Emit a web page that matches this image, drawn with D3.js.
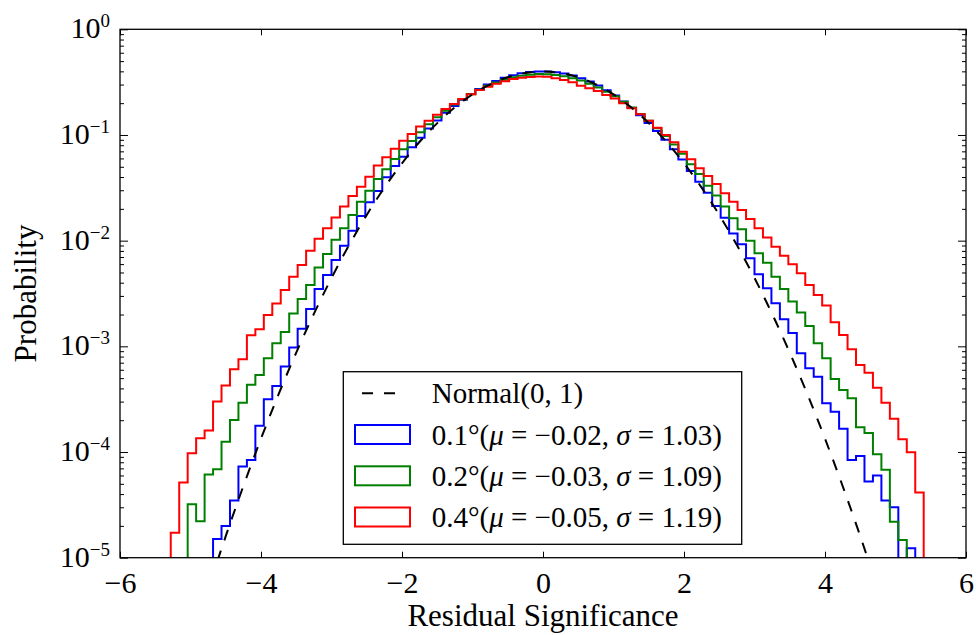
<!DOCTYPE html>
<html>
<head>
<meta charset="utf-8">
<script src="https://cdn.jsdelivr.net/npm/d3@7/dist/d3.min.js"></script>
<style>
  html, body { margin: 0; padding: 0; background: #fff; }
  svg { display: block; font-family: "Liberation Serif", "DejaVu Serif", serif; }
  svg text { font-family: "Liberation Serif", "DejaVu Serif", serif; }
</style>
</head>
<body>
<div id="chart"></div>
<script>
// Histograms on a 0.12 wide bin grid; each series lists its bins from a first left edge
const binWidth = 0.12;

const blueFrom = -4.68;
const blueValues = [
  1.50e-5, 2.00e-5, 3.47e-5, 7.28e-5, 8.41e-5, 1.77e-4, 3.16e-4, 4.22e-4, 6.43e-4, 9.73e-4,
  1.47e-3, 2.26e-3, 3.49e-3, 4.73e-3, 6.56e-3, 8.97e-3, 0.0124, 0.0171, 0.0231, 0.0295,
  0.0398, 0.0509, 0.0624, 0.0764, 0.0944, 0.115, 0.137, 0.162, 0.188, 0.216,
  0.244, 0.273, 0.300, 0.325, 0.348, 0.367, 0.383, 0.394, 0.399, 0.398,
  0.393, 0.381, 0.365, 0.344, 0.321, 0.294, 0.265, 0.236, 0.207, 0.180,
  0.154, 0.130, 0.109, 0.0899, 0.0733, 0.0587, 0.0456, 0.0361, 0.0284, 0.0213,
  0.0165, 0.0117, 9.25e-3, 6.81e-3, 4.81e-3, 3.55e-3, 2.56e-3, 1.80e-3, 1.34e-3, 8.61e-4,
  6.21e-4, 5.16e-4, 2.90e-4, 2.41e-4, 1.66e-4, 8.41e-5, 9.18e-5, 5.25e-5, 5.98e-5, 3.47e-5,
  3.01e-5, 0, 1.23e-5
];

const greenFrom = -5.04;
const greenValues = [
  3.21e-5, 2.21e-5,
  6.12e-5, 6.87e-5, 1.25e-4, 2.01e-4, 2.93e-4, 4.32e-4, 5.36e-4, 7.71e-4, 1.07e-3, 1.37e-3,
  2.04e-3, 2.81e-3, 3.81e-3, 5.56e-3, 7.48e-3, 0.0102, 0.0131, 0.0175, 0.0234, 0.0297,
  0.0384, 0.0473, 0.0593, 0.0733, 0.0877, 0.106, 0.126, 0.147, 0.170, 0.194,
  0.218, 0.243, 0.268, 0.292, 0.314, 0.334, 0.351, 0.364, 0.372, 0.377,
  0.376, 0.370, 0.360, 0.345, 0.327, 0.306, 0.282, 0.257, 0.232, 0.206,
  0.182, 0.158, 0.136, 0.116, 0.0977, 0.0813, 0.0664, 0.0528, 0.0428, 0.0330,
  0.0267, 0.0210, 0.0163, 0.0128, 0.0100, 7.60e-3, 6.19e-3, 4.56e-3, 3.49e-3, 2.65e-3,
  2.09e-3, 1.56e-3, 1.07e-3, 7.71e-4, 4.92e-4, 3.86e-4, 3.23e-4, 1.72e-4, 1.51e-4, 9.53e-5,
  6.78e-5, 2.19e-5, 1.47e-5
];

const redFrom = -5.28;
const redValues = [
  1.72e-5, 5.14e-5, 9.75e-5, 1.35e-4,
  1.60e-4, 3.00e-4, 4.25e-4, 6.07e-4, 7.55e-4, 1.27e-3, 1.45e-3, 1.98e-3, 2.54e-3, 3.42e-3,
  4.56e-3, 5.89e-3, 8.04e-3, 0.0104, 0.0131, 0.0166, 0.0210, 0.0265, 0.0324, 0.0403,
  0.0513, 0.0615, 0.0741, 0.0881, 0.102, 0.120, 0.136, 0.155, 0.176, 0.196,
  0.219, 0.243, 0.267, 0.286, 0.306, 0.323, 0.338, 0.348, 0.354, 0.357,
  0.355, 0.345, 0.331, 0.315, 0.293, 0.277, 0.261, 0.239, 0.222, 0.200,
  0.179, 0.157, 0.136, 0.117, 0.100, 0.0853, 0.0695, 0.0589, 0.0484, 0.0409,
  0.0344, 0.0281, 0.0234, 0.0195, 0.0160, 0.0131, 0.0107, 8.77e-3, 7.21e-3, 5.98e-3,
  4.92e-3, 3.81e-3, 3.06e-3, 2.44e-3, 1.69e-3, 1.28e-3, 9.40e-4, 6.67e-4, 5.64e-4, 4.06e-4,
  2.93e-4, 2.06e-4, 1.32e-4, 9.95e-5, 4.13e-5
];

// Normal(0,1) reference curve
const normX = [-5, -4.75, -4.5, -4.25, -4, -3.75, -3.5, -3.25, -3, -2.75, -2.5, -2.25, -2, -1.75,
  -1.5, -1.25, -1, -0.75, -0.5, -0.25, 0, 0.25, 0.5, 0.75, 1, 1.25, 1.5, 1.75, 2, 2.25, 2.5,
  2.75, 3, 3.25, 3.5, 3.75, 4, 4.25, 4.5, 4.75, 5];
const normY = [1.487e-6, 5.03e-6, 1.598e-5, 4.77e-5, 1.338e-4, 3.526e-4, 8.727e-4, 2.029e-3,
  4.432e-3, 9.094e-3, 0.01753, 0.03174, 0.05399, 0.08628, 0.12952, 0.18265, 0.24197, 0.30114,
  0.35207, 0.38667, 0.39894, 0.38667, 0.35207, 0.30114, 0.24197, 0.18265, 0.12952, 0.08628,
  0.05399, 0.03174, 0.01753, 9.094e-3, 4.432e-3, 2.029e-3, 8.727e-4, 3.526e-4, 1.338e-4,
  4.77e-5, 1.598e-5, 5.03e-6, 1.487e-6];

// Legend entries
const seriesAngles = ['0.1°', '0.2°', '0.4°'];
const seriesMu = ['−0.02', '−0.03', '−0.05'];
const seriesSigma = ['1.03', '1.09', '1.19'];
const normalLabel = 'Normal(0, 1)';

// Axis ticks
const xTicks = [-6, -4, -2, 0, 2, 4, 6];
const yExponents = [0, -1, -2, -3, -4, -5];

const seriesColors = ['#0000ff', '#008000', '#ff0000'];
const serif = 'Liberation Serif';

const width = 976;
const height = 635;
const margin = { top: 29.3, right: 10, bottom: 77.3, left: 120 };

const svg = d3.select('#chart').append('svg')
  .attr('width', width)
  .attr('height', height);

const x = d3.scaleLinear()
  .domain([-6, 6])
  .range([margin.left, width - margin.right]);

const y = d3.scaleLog()
  .domain([1e-5, 1])
  .range([height - margin.bottom, margin.top]);

const plotW = width - margin.left - margin.right;
const plotH = height - margin.top - margin.bottom;

svg.append('clipPath').attr('id', 'plot-clip')
  .append('rect')
  .attr('x', margin.left).attr('y', margin.top)
  .attr('width', plotW).attr('height', plotH);

// Step outline of a histogram, empty bins drop below the axis
const floor = 1e-7;
function stepPoints(from, values) {
  const pts = [[from, floor]];
  values.forEach((v, i) => pts.push([from + i * binWidth, v]));
  pts.push([from + values.length * binWidth, floor]);
  return pts;
}

const stepLine = d3.line()
  .x(d => x(d[0]))
  .y(d => y(Math.max(d[1], floor)))
  .curve(d3.curveStepAfter);

const plot = svg.append('g').attr('clip-path', 'url(#plot-clip)');

const series = [
  { from: blueFrom, values: blueValues },
  { from: greenFrom, values: greenValues },
  { from: redFrom, values: redValues }
];

series.forEach((s, i) => {
  plot.append('path')
    .attr('d', stepLine(stepPoints(s.from, s.values)))
    .attr('fill', 'none')
    .attr('stroke', seriesColors[i])
    .attr('stroke-width', 2)
    .attr('stroke-linejoin', 'miter');
});

// Normal curve
const normLine = d3.line()
  .x((d, i) => x(normX[i]))
  .y(d => y(d))
  .curve(d3.curveMonotoneX);

plot.append('path')
  .attr('d', normLine(normY))
  .attr('fill', 'none')
  .attr('stroke', '#000')
  .attr('stroke-width', 2)
  .attr('stroke-dasharray', '11,11');

// Axes (inward ticks on all four sides)
const yMajor = yExponents.map(e => Math.pow(10, e));
const yMinor = y.ticks().filter(v => !yMajor.some(m => Math.abs(m - v) / m < 1e-6));
const bottomY = height - margin.bottom;
const rightX = width - margin.right;

const xAxis = svg.append('g')
  .attr('transform', `translate(0,${bottomY})`)
  .call(d3.axisBottom(x).tickValues(xTicks).tickSizeInner(-6).tickSizeOuter(0).tickPadding(14));
xAxis.attr('font-family', null);
xAxis.selectAll('text')
  .style('font-family', serif)
  .style('font-size', '30px')
  .attr('fill', '#000');

svg.append('g')
  .attr('transform', `translate(0,${margin.top})`)
  .call(d3.axisTop(x).tickValues(xTicks).tickSize(-6).tickFormat(''));

svg.append('g')
  .attr('transform', `translate(${margin.left},0)`)
  .call(d3.axisLeft(y).tickValues(yMajor).tickSize(-8).tickFormat(''));
svg.append('g')
  .attr('transform', `translate(${margin.left},0)`)
  .call(d3.axisLeft(y).tickValues(yMinor).tickSize(-4).tickFormat(''));
svg.append('g')
  .attr('transform', `translate(${rightX},0)`)
  .call(d3.axisRight(y).tickValues(yMajor).tickSize(-8).tickFormat(''));
svg.append('g')
  .attr('transform', `translate(${rightX},0)`)
  .call(d3.axisRight(y).tickValues(yMinor).tickSize(-4).tickFormat(''));

svg.selectAll('.domain').remove();
svg.selectAll('.tick line').attr('stroke', '#000').attr('stroke-width', 1);

// Y tick labels as 10^e
yExponents.forEach(e => {
  const t = svg.append('text')
    .attr('x', margin.left - 10)
    .attr('y', y(Math.pow(10, e)) + 9)
    .attr('text-anchor', 'end')
    .attr('font-size', '30px')
    .attr('fill', '#000')
    .text('10');
  t.append('tspan')
    .attr('dy', -11)
    .attr('font-size', '19px')
    .text(e === 0 ? '0' : '−' + Math.abs(e));
});

// Frame
svg.append('rect')
  .attr('x', margin.left).attr('y', margin.top)
  .attr('width', plotW).attr('height', plotH)
  .attr('fill', 'none')
  .attr('stroke', '#000')
  .attr('stroke-width', 1.3);

// Axis labels
svg.append('text')
  .attr('x', x(0))
  .attr('y', 626)
  .attr('text-anchor', 'middle')
  .attr('font-size', '31px')
  .attr('fill', '#000')
  .text('Residual Significance');

svg.append('text')
  .attr('transform', `translate(36,${(220 + 367) / 2}) rotate(-90)`)
  .attr('text-anchor', 'middle')
  .attr('font-size', '31px')
  .attr('fill', '#000')
  .text('Probability');

// Legend
const legend = svg.append('g');
legend.append('rect')
  .attr('x', 343.3).attr('y', 371.7)
  .attr('width', 398.4).attr('height', 172.6)
  .attr('fill', '#fff')
  .attr('stroke', '#000')
  .attr('stroke-width', 1.3);

const rowBase = [402.7, 444.5, 485.8, 527];

legend.append('line')
  .attr('x1', 362).attr('x2', 395)
  .attr('y1', rowBase[0] - 9.4).attr('y2', rowBase[0] - 9.4)
  .attr('stroke', '#000')
  .attr('stroke-width', 2)
  .attr('stroke-dasharray', '11,11');

legend.append('text')
  .attr('x', 431.7).attr('y', rowBase[0])
  .attr('font-size', '29px')
  .attr('fill', '#000')
  .text(normalLabel);

seriesAngles.forEach((a, i) => {
  const base = rowBase[i + 1];
  legend.append('rect')
    .attr('x', 355).attr('y', base - 19.5)
    .attr('width', 55).attr('height', 19)
    .attr('fill', 'none')
    .attr('stroke', seriesColors[i])
    .attr('stroke-width', 2);

  const t = legend.append('text')
    .attr('x', 431.7).attr('y', base)
    .attr('font-size', '29px')
    .attr('fill', '#000');
  t.append('tspan').text(a + '(');
  t.append('tspan').attr('font-style', 'italic').text('μ');
  t.append('tspan').text(' = ' + seriesMu[i] + ', ');
  t.append('tspan').attr('font-style', 'italic').text('σ');
  t.append('tspan').text(' = ' + seriesSigma[i] + ')');
});
</script>
</body>
</html>
